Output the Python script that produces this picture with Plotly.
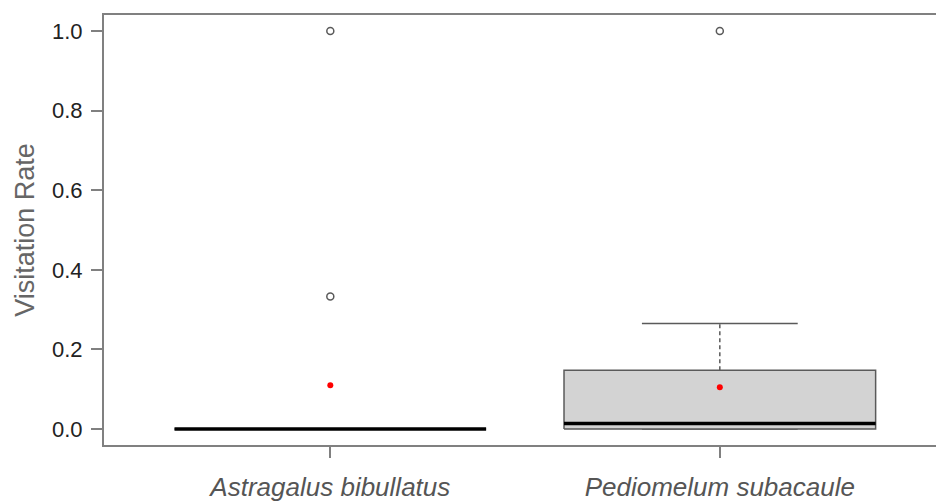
import plotly.graph_objects as go

categories = ["Astragalus bibullatus", "Pediomelum subacaule"]
q1 = [0.0, 0.0]
medians = [0.0, 0.014]
q3 = [0.0, 0.148]
whisker_low = [0.0, 0.0]
whisker_high = [0.0, 0.265]
outliers = [[1.0, 0.333], [1.0]]
means = [0.11, 0.105]
y_ticks = [0.0, 0.2, 0.4, 0.6, 0.8, 1.0]

HALF = 0.4
CAP = 0.2
BORDER = "#5a5a5a"
AXIS = "#808080"

fig = go.Figure()
positions = [i + 1 for i in range(len(categories))]

for i, x in enumerate(positions):
    # whiskers (dashed)
    for lo, hi in ((whisker_low[i], q1[i]), (q3[i], whisker_high[i])):
        if hi > lo:
            fig.add_trace(go.Scatter(x=[x, x], y=[lo, hi], mode="lines",
                                     line=dict(color=BORDER, width=1.5, dash="4px,3px"),
                                     hoverinfo="skip", showlegend=False))
    # caps
    for v in (whisker_low[i], whisker_high[i]):
        fig.add_trace(go.Scatter(x=[x - CAP, x + CAP], y=[v, v], mode="lines",
                                 line=dict(color=BORDER, width=1.5),
                                 hoverinfo="skip", showlegend=False))
    # box
    fig.add_trace(go.Scatter(x=[x - HALF, x + HALF, x + HALF, x - HALF, x - HALF],
                             y=[q1[i], q1[i], q3[i], q3[i], q1[i]],
                             mode="lines", fill="toself", fillcolor="#d3d3d3",
                             line=dict(color=BORDER, width=1.5),
                             hoverinfo="skip", showlegend=False))
    # median
    fig.add_trace(go.Scatter(x=[x - HALF, x + HALF], y=[medians[i], medians[i]], mode="lines",
                             line=dict(color="black", width=3.5),
                             hoverinfo="skip", showlegend=False))
    # outliers
    fig.add_trace(go.Scatter(x=[x] * len(outliers[i]), y=outliers[i], mode="markers",
                             marker=dict(symbol="circle-open", size=7, color=BORDER,
                                         line=dict(width=1.5)),
                             showlegend=False, name=categories[i]))
    # mean
    fig.add_trace(go.Scatter(x=[x], y=[means[i]], mode="markers",
                             marker=dict(symbol="circle", size=6, color="red"),
                             showlegend=False, name="mean"))

fig.update_layout(
    width=936, height=502,
    margin=dict(l=104, r=0, t=15, b=52),
    plot_bgcolor="white", paper_bgcolor="white",
    font=dict(family="Liberation Sans, Arial, sans-serif"),
    xaxis=dict(range=[0.419, 2.555], tickvals=positions, ticktext=categories,
               showline=True, linecolor=AXIS, linewidth=2, mirror=True,
               ticks="outside", ticklen=11, tickwidth=1.5, tickcolor=AXIS,
               showgrid=False, zeroline=False, ticklabelstandoff=7,
               tickfont=dict(size=26, color="#555555", style="italic")),
    yaxis=dict(range=[-0.04, 1.04], tickvals=y_ticks, tickformat=".1f",
               showline=True, linecolor=AXIS, linewidth=2,
               ticks="outside", ticklen=11, tickwidth=1.5, tickcolor=AXIS,
               showgrid=False, zeroline=False, ticklabelstandoff=4,
               tickfont=dict(size=22, color="#222222"),
               title=dict(text="Visitation Rate", standoff=10,
                          font=dict(size=27, color="#666666"))),
)

fig.write_html("out.html")
